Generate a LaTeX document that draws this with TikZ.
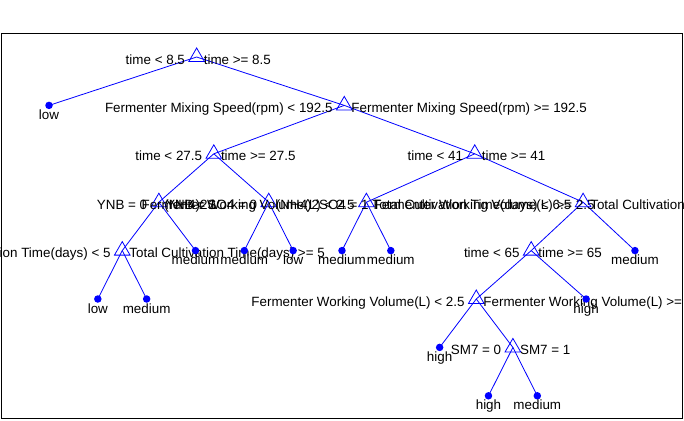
\documentclass[tikz,border=0pt]{standalone}
\usepackage{fontspec}
\setmainfont{Liberation Sans}
\usetikzlibrary{shapes.geometric}
\definecolor{mblue}{RGB}{0,0,255}
\tikzset{
  edge/.style={draw=mblue, line width=0.8pt},
  tri/.style={regular polygon, regular polygon sides=3, draw=mblue, line width=0.8pt, minimum size=18pt, inner sep=0pt, outer sep=0pt},
  dot/.style={circle, fill=mblue, minimum size=7.5pt, inner sep=0pt},
  lbl/.style={inner sep=0pt, font=\fontsize{13.4}{16}\selectfont, text=black},
  frame/.style={draw=black, line width=1pt}
}
\newcommand{\brlabels}[3]{%
  \node[tri] (#1m) at (#1) {};
  \node[lbl, anchor=base east] (#1l) at ([xshift=-11.5pt,yshift=-7pt]#1) {#2};
  \node[lbl, anchor=base west] (#1r) at ([xshift=7pt,yshift=-7pt]#1) {#3};}
\newcommand{\leaflabel}[2]{%
  \node[dot] (#1m) at (#1) {};
  \node[lbl, anchor=base] (#1t) at ([yshift=-14pt]#1) {#2};}
\begin{document}
\begin{tikzpicture}[x=1pt,y=-1pt]
\clip (0,0) rectangle (684,420);
\fill[white] (0,0) rectangle (684,420);
\draw[frame] (1.5,33.5) rectangle (682.5,418);
% branch nodes
\coordinate (root) at (196.64,57);
\coordinate (mix)  at (344.27,105.4);
\coordinate (n27)  at (213.8,153.8);
\coordinate (n41)  at (474.74,153.8);
\coordinate (A)    at (158.87,202.2);
\coordinate (B)    at (268.735,202.2);
\coordinate (C)    at (366.395,202.2);
\coordinate (D)    at (583.08,202.2);
\coordinate (E)    at (122.245,250.6);
\coordinate (F)    at (531.2,250.6);
\coordinate (G)    at (476.26,299);
\coordinate (H)    at (512.885,347.4);
% leaves
\coordinate (L0)  at (49,105.4);
\coordinate (L1)  at (97.83,299);
\coordinate (L2)  at (146.66,299);
\coordinate (L3)  at (195.49,250.6);
\coordinate (L4)  at (244.32,250.6);
\coordinate (L5)  at (293.15,250.6);
\coordinate (L6)  at (341.98,250.6);
\coordinate (L7)  at (390.81,250.6);
\coordinate (L8)  at (439.64,347.4);
\coordinate (L9)  at (488.47,395.8);
\coordinate (L10) at (537.3,395.8);
\coordinate (L11) at (586.13,299);
\coordinate (L12) at (634.96,250.6);
% edges
\draw[edge] (root) -- (L0);
\draw[edge] (root) -- (mix);
\draw[edge] (mix) -- (n27);
\draw[edge] (mix) -- (n41);
\draw[edge] (n27) -- (A);
\draw[edge] (n27) -- (B);
\draw[edge] (A) -- (E);
\draw[edge] (A) -- (L3);
\draw[edge] (E) -- (L1);
\draw[edge] (E) -- (L2);
\draw[edge] (B) -- (L4);
\draw[edge] (B) -- (L5);
\draw[edge] (n41) -- (C);
\draw[edge] (n41) -- (D);
\draw[edge] (C) -- (L6);
\draw[edge] (C) -- (L7);
\draw[edge] (D) -- (F);
\draw[edge] (D) -- (L12);
\draw[edge] (F) -- (G);
\draw[edge] (F) -- (L11);
\draw[edge] (G) -- (L8);
\draw[edge] (G) -- (H);
\draw[edge] (H) -- (L9);
\draw[edge] (H) -- (L10);
% branch markers and labels
\brlabels{root}{time < 8.5}{time >= 8.5}
\brlabels{mix}{Fermenter Mixing Speed(rpm) < 192.5}{Fermenter Mixing Speed(rpm) >= 192.5}
\brlabels{n27}{time < 27.5}{time >= 27.5}
\brlabels{n41}{time < 41}{time >= 41}
\brlabels{A}{YNB = 0}{YNB = 1}
\brlabels{B}{(NH4)2SO4 = 0}{(NH4)2SO4 = 1}
\brlabels{C}{Fermenter Working Volume(L) < 2.5}{Fermenter Working Volume(L) >= 2.5}
\brlabels{D}{Total Cultivation Time(days) < 6.5}{Total Cultivation Time(days) >= 6.5}
\brlabels{E}{Total Cultivation Time(days) < 5}{Total Cultivation Time(days) >= 5}
\brlabels{F}{time < 65}{time >= 65}
\brlabels{G}{Fermenter Working Volume(L) < 2.5}{Fermenter Working Volume(L) >= 2.5}
\brlabels{H}{SM7 = 0}{SM7 = 1}
% leaf markers and labels
\leaflabel{L0}{low}
\leaflabel{L1}{low}
\leaflabel{L2}{medium}
\leaflabel{L3}{medium}
\leaflabel{L4}{medium}
\leaflabel{L5}{low}
\leaflabel{L6}{medium}
\leaflabel{L7}{medium}
\leaflabel{L8}{high}
\leaflabel{L9}{high}
\leaflabel{L10}{medium}
\leaflabel{L11}{high}
\leaflabel{L12}{medium}
\end{tikzpicture}
\end{document}
